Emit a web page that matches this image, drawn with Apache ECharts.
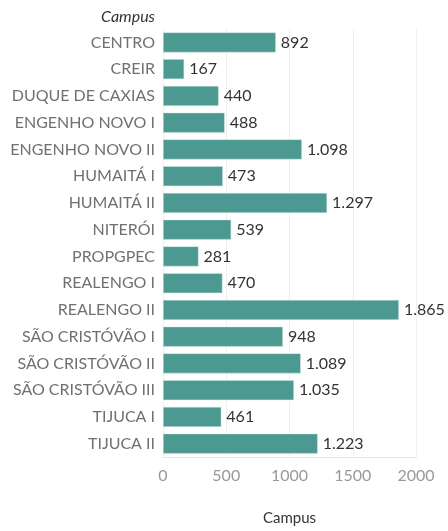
<!DOCTYPE html>
<html><head><meta charset="utf-8">
<script src="https://cdn.jsdelivr.net/npm/echarts@6/dist/echarts.min.js"></script>
<style>html,body{margin:0;padding:0;background:#fff}#c{width:448px;height:531px}</style>
</head><body><div id="c"></div>
<script>
const categories = ["CENTRO","CREIR","DUQUE DE CAXIAS","ENGENHO NOVO I","ENGENHO NOVO II","HUMAITÁ I","HUMAITÁ II","NITERÓI","PROPGPEC","REALENGO I","REALENGO II","SÃO CRISTÓVÃO I","SÃO CRISTÓVÃO II","SÃO CRISTÓVÃO III","TIJUCA I","TIJUCA II"];
const values = [892,167,440,488,1098,473,1297,539,281,470,1865,948,1089,1035,461,1223];
const xTicks = [0,500,1000,1500,2000];
const font = "Lato";
const chart = echarts.init(document.getElementById('c'));
chart.setOption({
  animation:false,
  grid:{left:163,right:32,top:29,bottom:67,containLabel:false},
  xAxis:{type:'value',min:xTicks[0],max:xTicks[xTicks.length-1],interval:500,
    name:'Campus',nameLocation:'middle',nameGap:54,
    nameTextStyle:{color:'#333',fontSize:15,fontFamily:font},
    axisLine:{show:true,lineStyle:{color:'#e6e6e6'}},axisTick:{show:false},
    axisLabel:{color:'#999',fontSize:16,fontFamily:font,margin:11,formatter:v=>String(v)},
    splitLine:{lineStyle:{color:'#efefef'}}},
  yAxis:{type:'category',data:categories,inverse:true,
    name:'Campus',nameLocation:'start',nameGap:4,
    nameTextStyle:{color:'#333',fontSize:16,fontStyle:'italic',fontFamily:font,align:'right',padding:[0,8,0,0]},
    axisLine:{show:false},axisTick:{show:false},
    axisLabel:{color:'#707070',fontSize:16,fontFamily:font,margin:8}},
  series:[{type:'bar',data:values,barWidth:20,
    itemStyle:{color:'#4b9990',borderColor:'#d7ebe7',borderWidth:0.5},
    label:{show:true,position:'right',distance:5,color:'#333',fontSize:16,fontFamily:font,
      formatter:p=>p.value.toLocaleString('de-DE')}}]
});
</script></body></html>
